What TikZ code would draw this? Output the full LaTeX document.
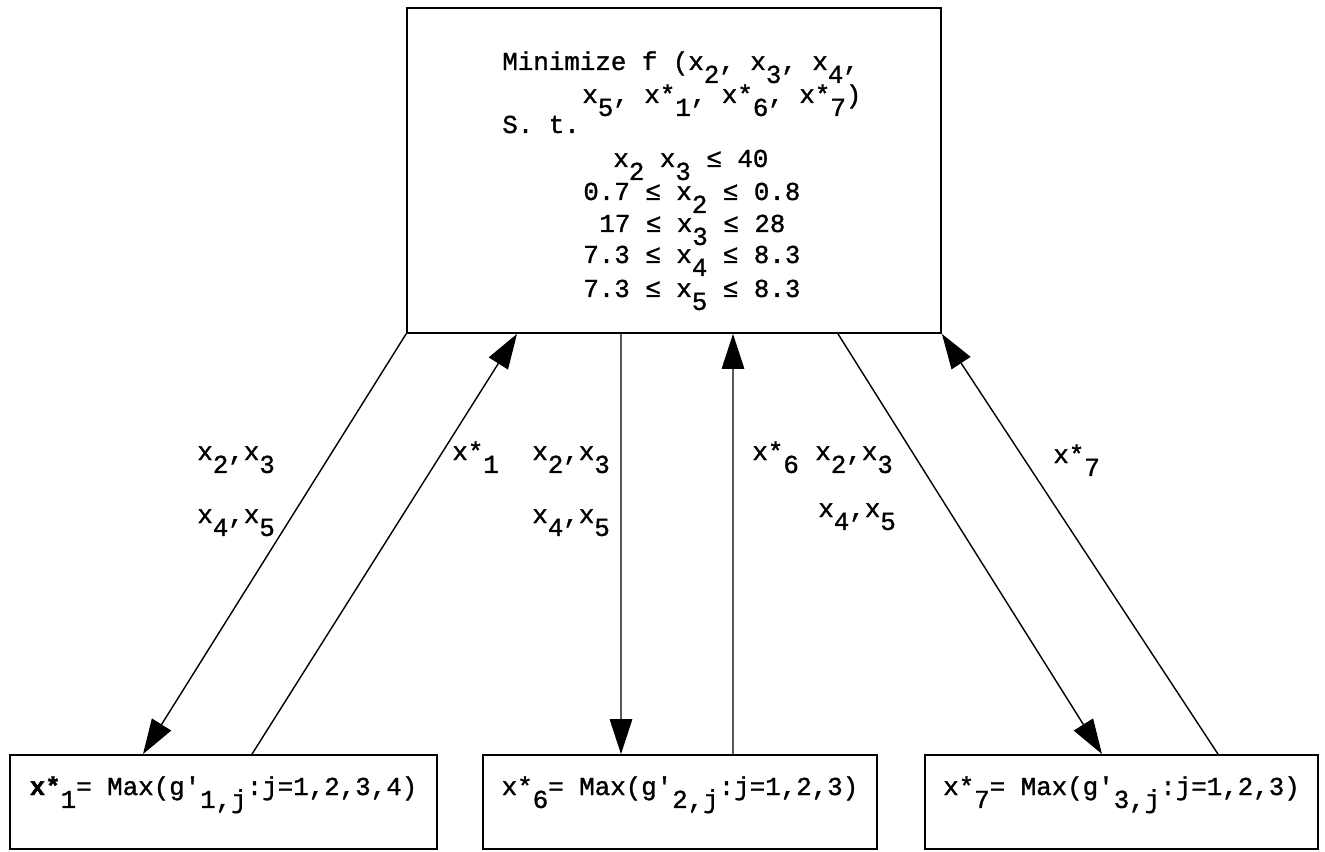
\documentclass[tikz,border=0pt]{standalone}
\usepackage{fontspec}
\setmonofont{Liberation Mono}[FakeBold=1.2]
\usetikzlibrary{arrows.meta,positioning,calc}
\newcommand{\lo}[1]{\smash{\raisebox{-0.5em}{#1}}}
\tikzset{
  box/.style = {draw, line width=1pt, rectangle, inner sep=0pt},
  line/.style = {draw, line width=0.8pt, -{Triangle[length=7mm,width=4.5mm]}},
  txt/.style = {anchor=base west, inner sep=0pt}
}

\begin{document}
\begin{tikzpicture}[font=\ttfamily\fontsize{14.7}{18}\selectfont\frenchspacing]
    \useasboundingbox (0,0) rectangle (26.5,17.02);
    % boxes
    \node [box, minimum width=10.68cm, minimum height=6.5cm] (opt) at (13.48,13.61) {};
    \node [box, minimum width=8.54cm, minimum height=1.88cm, text height=0.4cm, text depth=0.68cm] (sub1) at (4.47,0.98)
        {\textbf{x*}\lo{1}= Max(g'\lo{1,j}:j=1,2,3,4)};
    \node [box, minimum width=7.88cm, minimum height=1.88cm, text height=0.4cm, text depth=0.68cm] (sub2) at (13.6,0.98)
        {x*\lo{6}= Max(g'\lo{2,j}:j=1,2,3)};
    \node [box, minimum width=7.86cm, minimum height=1.88cm, text height=0.4cm, text depth=0.68cm] (sub3) at (22.43,0.98)
        {x*\lo{7}= Max(g'\lo{3,j}:j=1,2,3)};

    % problem text
    \node [txt] (minl) at (10.04,15.62) {Minimize f (x\lo{2}, x\lo{3}, x\lo{4},};
    \node [txt] (argl) at (11.64,14.96) {x\lo{5}, x*\lo{1}, x*\lo{6}, x*\lo{7})};
    \node [txt] (stl) at (10.04,14.36) {S. t.};
    \node [txt] (con1) at (12.26,13.68) {x\lo{2} x\lo{3} ≤ 40};
    \node [txt] (con2) at (11.66,13.02) {0.7 ≤ x\lo{2} ≤ 0.8};
    \node [txt] (con3) at (11.98,12.38) {17 ≤ x\lo{3} ≤ 28};
    \node [txt] (con4) at (11.66,11.76) {7.3 ≤ x\lo{4} ≤ 8.3};
    \node [txt] (con5) at (11.66,11.08) {7.3 ≤ x\lo{5} ≤ 8.3};

    % connectors
    \path [line] (opt.south west) -- ([xshift=-1.61cm]sub1.north);
    \path [line] ([xshift=0.57cm]sub1.north) -- ([xshift=-3.14cm]opt.south);
    \path [line] ([xshift=-1.06cm]opt.south) -- ([xshift=-1.18cm]sub2.north);
    \path [line] ([xshift=1.06cm]sub2.north) -- ([xshift=1.18cm]opt.south);
    \path [line] ([xshift=3.28cm]opt.south) -- ([xshift=-0.39cm]sub3.north);
    \path [line] ([xshift=1.93cm]sub3.north) -- (opt.south east);

    % labels
    \node [txt] (in1a) at (3.94,7.82) {x\lo{2},x\lo{3}};
    \node [txt] (in1b) at (3.94,6.56) {x\lo{4},x\lo{5}};
    \node [txt] (out1) at (9.04,7.82) {x*\lo{1}};
    \node [txt] (in2a) at (10.64,7.82) {x\lo{2},x\lo{3}};
    \node [txt] (in2b) at (10.64,6.56) {x\lo{4},x\lo{5}};
    \node [txt] (out2) at (15.04,7.82) {x*\lo{6}};
    \node [txt] (in3a) at (16.30,7.82) {x\lo{2},x\lo{3}};
    \node [txt] (in3b) at (16.36,6.68) {x\lo{4},x\lo{5}};
    \node [txt] (out3) at (21.06,7.76) {x*\lo{7}};
\end{tikzpicture}
\end{document}
